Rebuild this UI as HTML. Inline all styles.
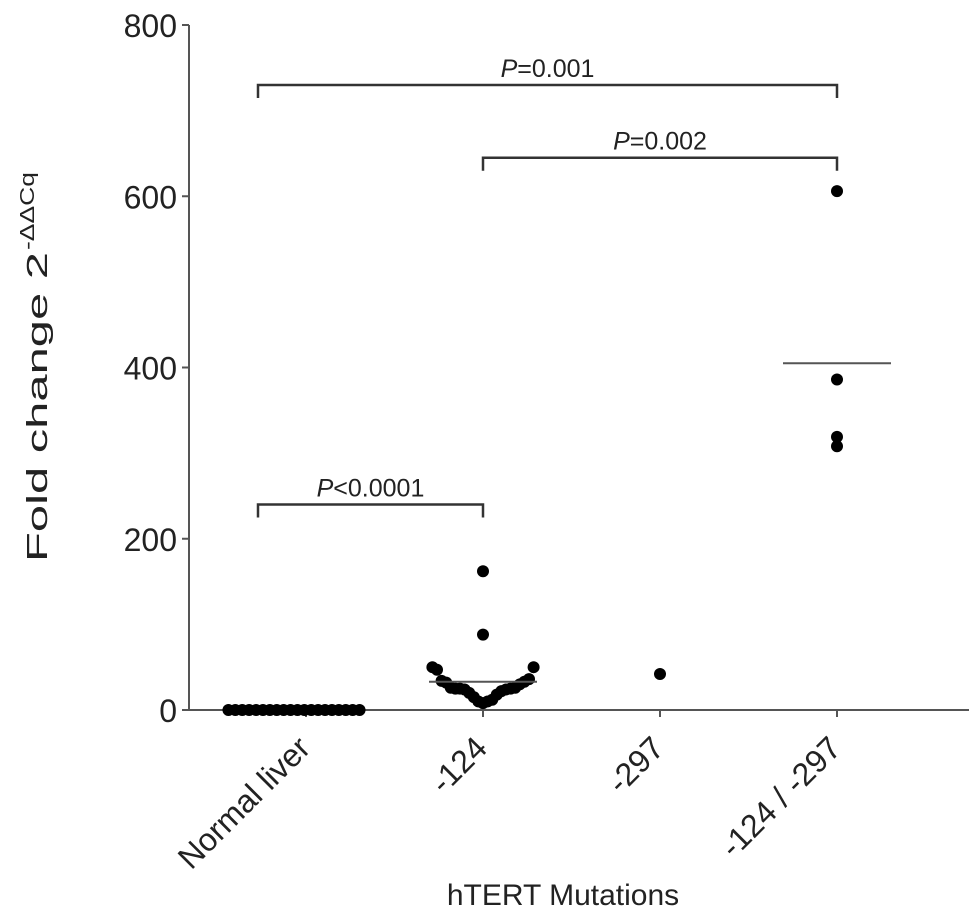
<!DOCTYPE html>
<html><head><meta charset="utf-8"><style>
body{margin:0;background:#fff;}
svg{display:block;font-family:"Liberation Sans",sans-serif;}
</style></head><body>
<svg id="chart" width="969" height="920" viewBox="0 0 969 920"></svg>
<script>
const categories=["Normal liver","-124","-297","-124 / -297"];
const normalValues=[0,0,0,0,0,0,0,0,0,0,0,0,0,0,0,0,0,0,0,0];
const m124Values=[162,88,50,47,50,36,34,32,33,30,26,25,25,24,24,25,26,22,20,18,15,12,10,10,8];
const m297Values=[42];
const bothValues=[606,386,308,319];
const meanValues=[0,33,42,405];
const yTicks=[0,200,400,600,800];
const brackets=[{a:0,b:3,y:730,label:"=0.001",sym:"P"},{a:1,b:3,y:645,label:"=0.002",sym:"P"},{a:0,b:1,y:240,label:"<0.0001",sym:"P"}];

const NS="http://www.w3.org/2000/svg";
const svg=document.getElementById('chart');
const X0=189,Y0=710,YT=25;
function yScale(v){return Y0-(v/800)*(Y0-YT);}
const catX=[306,483,660,837];
function xScale(i){return catX[i];}
function mk(tag,attrs,parent){const e=document.createElementNS(NS,tag);for(const k in attrs)e.setAttribute(k,attrs[k]);(parent||svg).appendChild(e);return e;}

let e=mk('line',{x1:X0,y1:YT,x2:X0,y2:Y0,stroke:'#555','stroke-width':2});


e=mk('line',{x1:X0,y1:Y0,x2:969,y2:Y0,stroke:'#555','stroke-width':2});


yTicks.forEach(t=>{
  const y=yScale(t);
  let l=mk('line',{x1:X0-7,y1:y,x2:X0,y2:y,stroke:'#555','stroke-width':2});
  
  
  let tx=mk('text',{x:X0-12,y:y+12,'text-anchor':'end','font-size':32,fill:'#222'});
  tx.textContent=t;
  
  
});
categories.forEach((c,i)=>{
  const x=xScale(i);
  let l=mk('line',{x1:x,y1:Y0,x2:x,y2:Y0+7,stroke:'#555','stroke-width':2});
  
  
  let tx=mk('text',{x:0,y:0,'text-anchor':'end','font-size':32,fill:'#222',transform:`translate(${x+6},${Y0+40}) rotate(-45)`});
  tx.textContent=c;
  
  
});
let yt=mk('text',{x:0,y:0,'text-anchor':'start','font-size':29,fill:'#222',textLength:310,lengthAdjust:'spacingAndGlyphs',transform:'translate(47,562) rotate(-90)'});
yt.textContent='Fold change 2';


let ys=mk('text',{x:0,y:0,'text-anchor':'start','font-size':20,fill:'#222',textLength:78,lengthAdjust:'spacingAndGlyphs',transform:'translate(34,250) rotate(-90)'});
ys.textContent='-ΔΔCq';


let xt=mk('text',{x:563,y:905,'text-anchor':'middle','font-size':30,fill:'#222'});
xt.textContent='hTERT Mutations';



function drawGroup(vals,ci,step,shift){
  const sorted=vals.map((v,k)=>({v,k})).sort((a,b)=>a.v-b.v);
  const cx=xScale(ci)+shift;
  sorted.forEach((o,j)=>{
    let dx;
    if(vals.every(v=>v===vals[0])){dx=(j-(vals.length-1)/2)*step;}
    else{const side=j%2===0?-1:1;const r=Math.ceil(j/2);dx=j===0?0:side*r*step;}
    if(o.v>60 || (vals.length<=4 && o.v>350)) dx=0;
    const c=mk('circle',{cx:cx+dx,cy:yScale(o.v),r:6,fill:'#000'});
    
    
  });
}
drawGroup(normalValues,0,6.9,-12);
drawGroup(m124Values,1,4.6,0);
drawGroup(m297Values,2,7,0);
drawGroup(bothValues,3,9,0);

meanValues.forEach((m,i)=>{
  if(i===0||i===2)return;
  const l=mk('line',{x1:xScale(i)-54,x2:xScale(i)+54,y1:yScale(m),y2:yScale(m),stroke:'#555','stroke-width':2});
  
  
});

brackets.forEach(b=>{
  const x1=b.a===0?258:xScale(b.a),x2=xScale(b.b),y=yScale(b.y);
  const p=mk('path',{d:`M${x1},${y+13}V${y}H${x2}V${y+13}`,fill:'none',stroke:'#333','stroke-width':2.5});
  
  
  const t=mk('text',{x:(x1+x2)/2,y:y-8,'text-anchor':'middle','font-size':25,fill:'#222'});
  t.innerHTML=`<tspan font-style="italic">${b.sym}</tspan>${b.label}`;
  
  
});
</script>
</body></html>
